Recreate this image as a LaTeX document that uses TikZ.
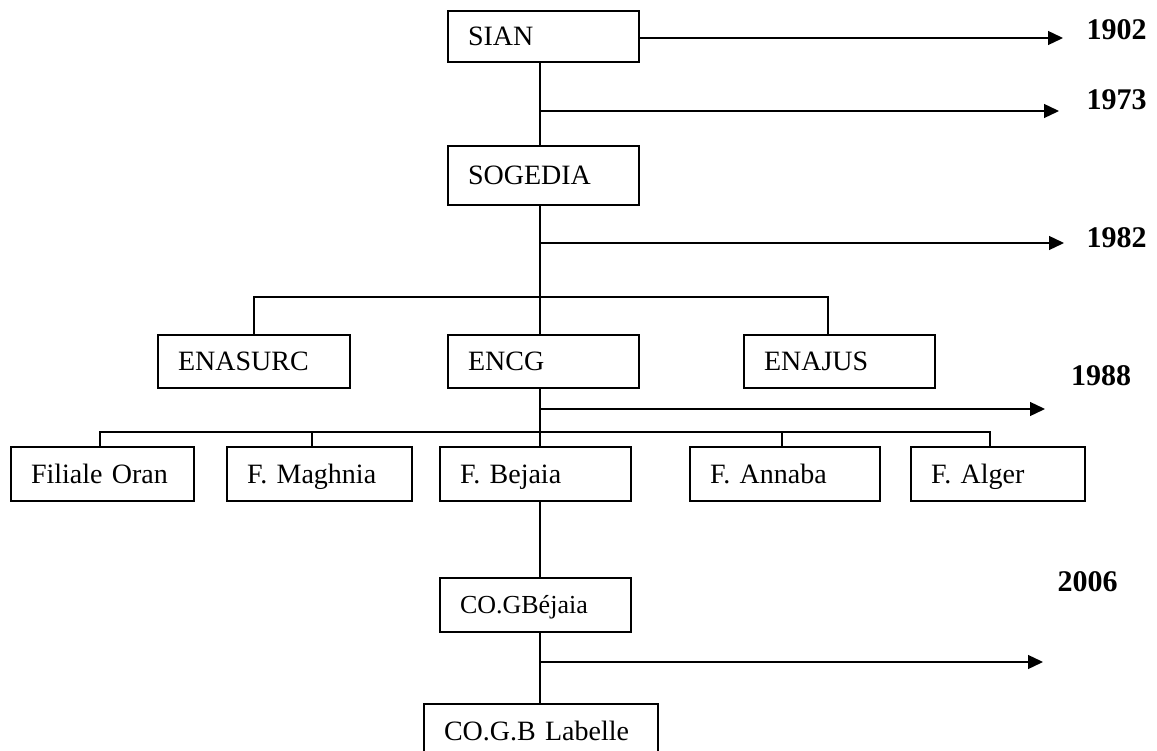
\documentclass[tikz,border=0pt]{standalone}
\usepackage{fontspec}
\setmainfont{Liberation Serif}
\usetikzlibrary{arrows.meta}
\tikzset{
	ent/.style 2 args={draw,line width=1.3pt,inner xsep=20pt,inner ysep=0pt,text width=#1,minimum height=#2,text height=19pt,text depth=1pt,align=left,font=\fontsize{28}{33}\selectfont},
	yr/.style={font=\fontsize{30}{34}\selectfont\bfseries,inner sep=0pt},
	link/.style={line width=1.3pt},
	flow/.style={line width=1.3pt,-{Triangle[length=15pt,width=14pt]}}
}
\begin{document}
\begin{tikzpicture}[x=1pt,y=-1pt]
	\useasboundingbox (0,0) rectangle (1157,751);
	\node [ent={151pt}{51pt}] (sian) at (543.5,36.5) {SIAN};
	\node [ent={151pt}{59pt}] (sogedia) at (543.5,175.5) {SOGEDIA};
	\node [ent={152pt}{53pt}] (enasurc) at (254,361.5) {ENASURC};
	\node [ent={151pt}{53pt}] (encg) at (543.5,361.5) {ENCG};
	\node [ent={151pt}{53pt}] (enajus) at (839.5,361.5) {ENAJUS};
	\node [ent={143pt}{54pt}] (oran) at (102.5,474) {Filiale Oran};
	\node [ent={145pt}{54pt}] (maghnia) at (319.5,474) {F. Maghnia};
	\node [ent={151pt}{54pt}] (bejaia) at (535.5,474) {F. Bejaia};
	\node [ent={150pt}{54pt}] (annaba) at (785,474) {F. Annaba};
	\node [ent={134pt}{54pt}] (alger) at (998,474) {F. Alger};
	\node [ent={151pt}{54pt},font=\fontsize{26}{30}\selectfont,text height=17pt] (cogb) at (535.5,605) {CO.GBéjaia};
	\node [ent={194pt}{54pt}] (labelle) at (541,731) {CO.G.B Labelle};

	\node [yr] (y1902) at (1116.5,30) {1902};
	\node [yr] (y1973) at (1116.5,100) {1973};
	\node [yr] (y1982) at (1116.5,238) {1982};
	\node [yr] (y1988) at (1101,376) {1988};
	\node [yr] (y2006) at (1087.5,582) {2006};

	\coordinate (axis) at (540,0);
	\coordinate (e1902) at (1063,38);
	\coordinate (e1973) at (1059,111);
	\coordinate (e1982) at (1064,243);
	\coordinate (e1988) at (1045,409);
	\coordinate (e2006) at (1043,662);
	\coordinate (jajus) at (828,297);
	\coordinate (joran) at (100,432);
	\coordinate (jmag) at (312,432);
	\coordinate (jann) at (782,432);
	\coordinate (jalger) at (990,432);

	% main line
	\draw [link] (axis |- sian.south) -- (axis |- sogedia.north);
	\draw [link] (axis |- sogedia.south) -- (axis |- encg.north);
	\draw [link] (axis |- encg.south) -- (axis |- bejaia.north);
	\draw [link] (axis |- bejaia.south) -- (axis |- cogb.north);
	\draw [link] (axis |- cogb.south) -- (axis |- labelle.north);

	% branches
	\draw [link] (enasurc.north) |- (jajus) -- (jajus |- enajus.north);
	\draw [link] (joran |- oran.north) -- (joran) -- (jalger) -- (jalger |- alger.north);
	\draw [link] (jmag) -- (jmag |- maghnia.north);
	\draw [link] (jann) -- (jann |- annaba.north);

	% dates
	\draw [flow] (sian.east |- e1902) -- (e1902);
	\draw [flow] (axis |- e1973) -- (e1973);
	\draw [flow] (axis |- e1982) -- (e1982);
	\draw [flow] (axis |- e1988) -- (e1988);
	\draw [flow] (axis |- e2006) -- (e2006);
\end{tikzpicture}
\end{document}
